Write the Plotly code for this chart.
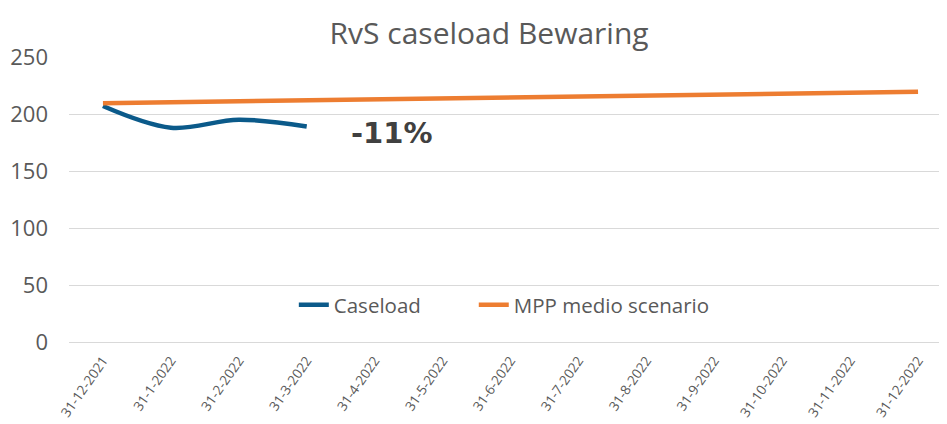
import plotly.graph_objects as go

categories = ["31-12-2021", "31-1-2022", "31-2-2022", "31-3-2022", "31-4-2022", "31-5-2022",
              "31-6-2022", "31-7-2022", "31-8-2022", "31-9-2022", "31-10-2022", "31-11-2022", "31-12-2022"]
caseload = [207, 188, 195, 189]
mpp_medio = [209.5, 210.3, 211.2, 212.0, 212.8, 213.6, 214.5, 215.3, 216.1, 217.0, 217.8, 218.7, 219.5]
y_ticks = [0, 50, 100, 150, 200, 250]

FONT = "Open Sans"
GRAY = "#595959"
NB = "\u00a0"

fig = go.Figure()
fig.add_trace(go.Scatter(x=categories[:len(caseload)], y=caseload, mode="lines", name="Caseload" + NB * 9,
                         line=dict(color="#0B5A8A", width=4.5, shape="spline", smoothing=1.0)))
fig.add_trace(go.Scatter(x=categories, y=mpp_medio, mode="lines", name="MPP medio scenario",
                         line=dict(color="#ED7D31", width=4.5)))

fig.add_annotation(x=categories[3], y=183.5, xref="x", yref="y", text="<b>-11%</b>", showarrow=False,
                   xshift=85, font=dict(family="DejaVu Sans", size=29, color="#404040"))

fig.update_layout(
    width=947, height=424,
    margin=dict(l=61, r=3, t=49, b=90),
    paper_bgcolor="white", plot_bgcolor="white",
    title=dict(text="RvS caseload Bewaring", x=0.508, xanchor="center", y=0.94, yanchor="middle",
               font=dict(family=FONT, size=30, color=GRAY)),
    font=dict(family=FONT, color=GRAY),
    legend=dict(orientation="h", x=0.493, xanchor="center", y=0.13, yanchor="middle",
                font=dict(family=FONT, size=20.5, color=GRAY), bgcolor="rgba(0,0,0,0)"),
    showlegend=True,
)
fig.update_xaxes(type="category", range=[-0.5, 12.5], tickangle=-55, showgrid=False, automargin=False,
                 tickfont=dict(family=FONT, size=13.5, color=GRAY), showline=False, ticks="",
                 ticklabelstandoff=7)
fig.update_yaxes(range=[0, 250], tickvals=y_ticks, gridcolor="#D9D9D9", gridwidth=1, automargin=False,
                 zeroline=True, zerolinecolor="#D9D9D9", zerolinewidth=1,
                 tickfont=dict(family=FONT, size=22, color=GRAY), ticklabelstandoff=20)

fig.write_html("out.html")
